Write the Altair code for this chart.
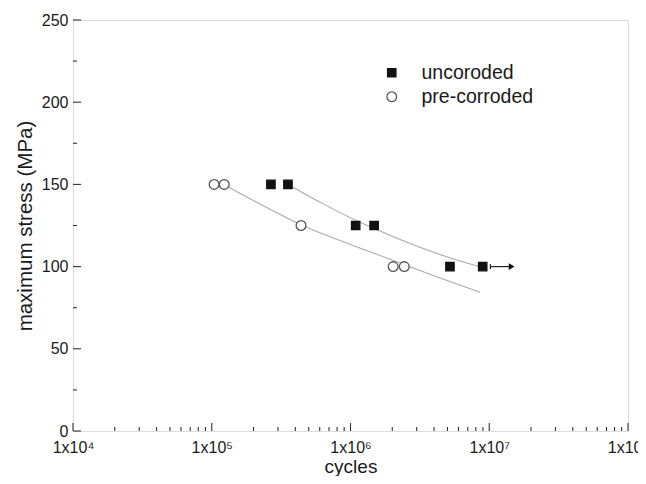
import altair as alt
import pandas as pd

# ---- data ----
uncor_x = [2.67e5, 3.54e5, 1.09e6, 1.48e6, 5.21e6, 8.97e6]
uncor_y = [150, 150, 125, 125, 100, 100]
pre_x = [1.04e5, 1.23e5, 4.4e5, 2.03e6, 2.44e6]
pre_y = [150, 150, 125, 100, 100]

fit_up_x = [3.55e5, 6.31e5, 1.10e6, 2.0e6, 3.55e6, 5.25e6, 8.9e6]
fit_up_y = [150, 138.3, 128, 118.5, 110.2, 105.2, 99.5]
fit_pre_x = [1.22e5, 2.51e5, 4.4e5, 1.0e6, 2.0e6, 3.98e6, 8.57e6]
fit_pre_y = [150, 135.8, 125.5, 113.5, 104, 94.5, 84.4]

arrow_x = [1.02e7, 1.45e7]
arrow_y = [100, 100]

series_names = ["uncoroded", "pre-corroded"]

x_major = [1e4, 1e5, 1e6, 1e7, 1e8]
x_minor = [m * 10 ** e for e in range(4, 8) for m in range(2, 10)]
y_major = [0, 50, 100, 150, 200, 250]
y_minor = [25, 75, 125, 175, 225]

FONT = "Liberation Sans"
TXT = "#1a1a1a"

pts = pd.DataFrame({
    "x": uncor_x + pre_x,
    "y": uncor_y + pre_y,
    "series": [series_names[0]] * len(uncor_x) + [series_names[1]] * len(pre_x),
})
fits = pd.DataFrame({
    "x": fit_up_x + fit_pre_x,
    "y": fit_up_y + fit_pre_y,
    "curve": ["a"] * len(fit_up_x) + ["b"] * len(fit_pre_x),
})
arrow = pd.DataFrame({"x": arrow_x, "y": arrow_y})

sup = "['⁰','¹','²','³','⁴','⁵','⁶','⁷','⁸','⁹']"

def X(field="x"):
    return alt.X(
        f"{field}:Q",
        scale=alt.Scale(type="log", domain=[1e4, 1e8], nice=False),
        axis=alt.Axis(
            title="cycles", values=x_major, ticks=False, domain=False, grid=False,
            labelExpr=f"'1x10' + {sup}[round(log(datum.value)/LN10)]",
            labelPadding=8, titlePadding=2, labelFontSize=16, titleFontSize=19,
            labelFont=FONT, titleFont=FONT, labelColor=TXT, titleColor=TXT,
            titleFontWeight="normal", labelFlush=False, labelOverlap=False,
        ),
    )

def Y(field="y"):
    return alt.Y(
        f"{field}:Q",
        scale=alt.Scale(domain=[0, 250], nice=False),
        axis=alt.Axis(
            title="maximum stress (MPa)", values=y_major, ticks=False, domain=False, grid=False,
            labelPadding=5, titlePadding=6, labelFontSize=16, titleFontSize=20.5,
            labelFont=FONT, titleFont=FONT, labelColor=TXT, titleColor=TXT,
            titleFontWeight="normal", labelOverlap=False,
        ),
    )

H = 411
W = 555

xmaj = alt.Chart(pd.DataFrame({"x": x_major})).mark_rule(color="#333", strokeWidth=1.1).encode(
    x=X(), y=alt.value(H), y2=alt.value(H - 8))
xmin = alt.Chart(pd.DataFrame({"x": x_minor})).mark_rule(color="#333", strokeWidth=1.1).encode(
    x=X(), y=alt.value(H), y2=alt.value(H - 4))
ymaj = alt.Chart(pd.DataFrame({"y": y_major})).mark_rule(color="#333", strokeWidth=1.1).encode(
    y=Y(), x=alt.value(0), x2=alt.value(8))
ymin = alt.Chart(pd.DataFrame({"y": y_minor})).mark_rule(color="#333", strokeWidth=1.1).encode(
    y=Y(), x=alt.value(0), x2=alt.value(4))

lines = alt.Chart(fits).mark_line(color="#aaaaaa", strokeWidth=1.1, interpolate="monotone").encode(
    x=X(), y=Y(), detail="curve:N")

arrow_line = alt.Chart(arrow).mark_line(color="#222", strokeWidth=1.2).encode(x=X(), y=Y())
arrow_head = alt.Chart(arrow.tail(1)).mark_point(
    shape="triangle-right", filled=True, color="#111", size=45, opacity=1).encode(x=X(), y=Y())
arrow_start = alt.Chart(arrow.head(1)).mark_point(
    shape="stroke", color="#222", size=25, angle=90, strokeWidth=1.2, opacity=1).encode(x=X(), y=Y())

legend = alt.Legend(
    title=None, orient="none", legendX=309, legendY=43, labelFontSize=19.5, labelFont=FONT,
    labelColor=TXT, rowPadding=3, symbolStrokeWidth=1.3, labelOffset=20,
)
points = alt.Chart(pts).mark_point(filled=True, opacity=1, strokeWidth=1.3).encode(
    x=X(), y=Y(),
    shape=alt.Shape("series:N", scale=alt.Scale(domain=series_names, range=["square", "circle"]), legend=legend),
    fill=alt.Fill("series:N", scale=alt.Scale(domain=series_names, range=["#111111", "#ffffff"]), legend=legend),
    stroke=alt.Stroke("series:N", scale=alt.Scale(domain=series_names, range=["#111111", "#555555"]), legend=legend),
    size=alt.Size("series:N", scale=alt.Scale(domain=series_names, range=[70, 95]), legend=legend),
)

chart = alt.layer(xmin, xmaj, ymin, ymaj, lines, arrow_line, arrow_start, arrow_head, points).properties(
    width=W, height=H,
    autosize=alt.AutoSizeParams(type="none"),
    padding={"left": 65, "top": 12, "right": 10, "bottom": 45},
).configure_view(stroke="#222", strokeWidth=1.2).configure(background="white")

chart.save("out.html", embed_options={"renderer": "svg", "actions": False})
